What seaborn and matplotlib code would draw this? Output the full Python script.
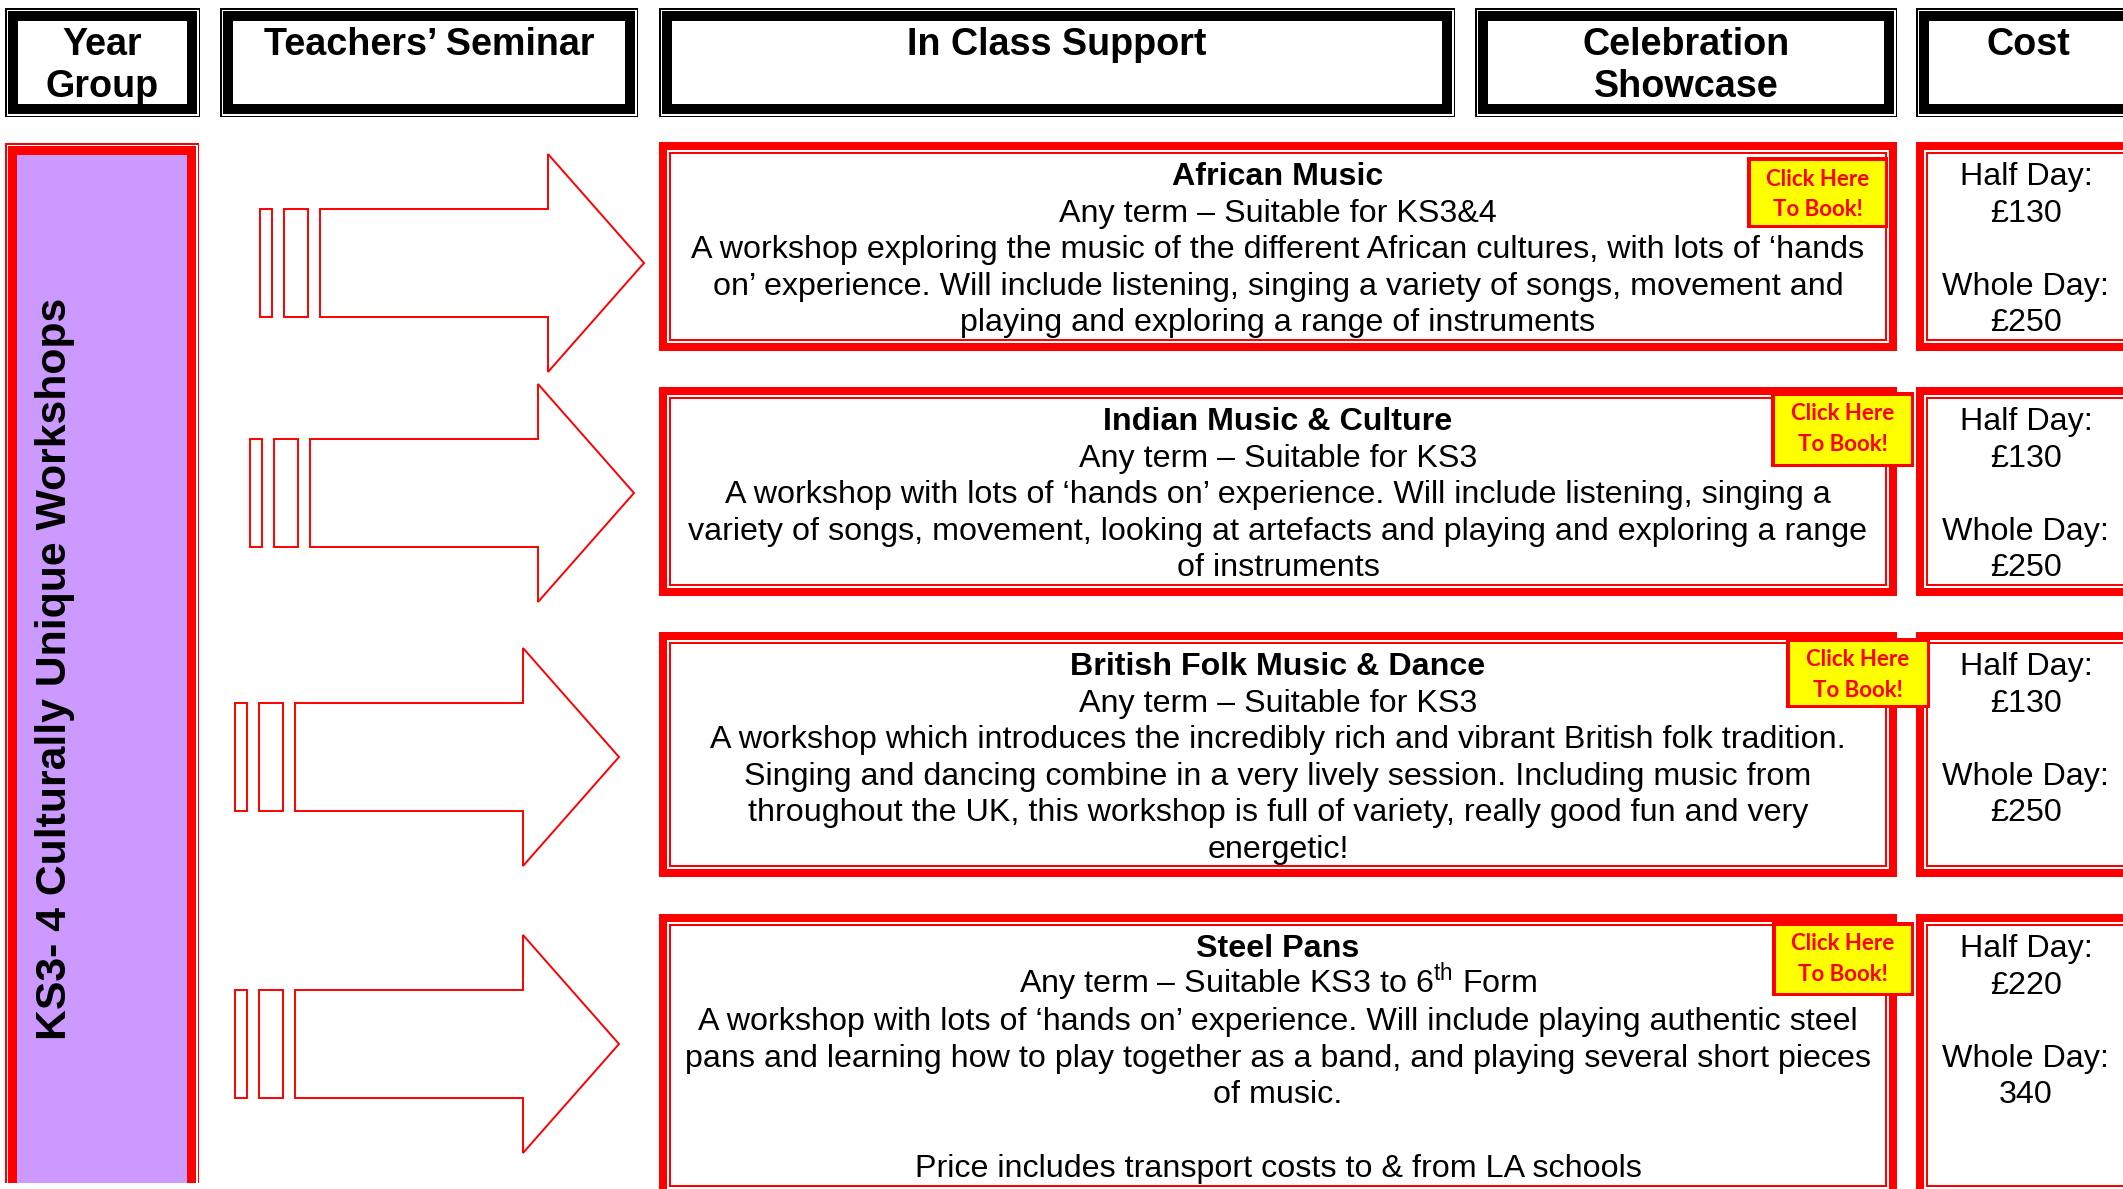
import matplotlib
matplotlib.use("Agg")
import matplotlib.pyplot as plt
from matplotlib.patches import Rectangle, Polygon
import seaborn as sns

# workshop table recreated as a drawing on one big axes (pixel units)

column_headers = [["Year", "Group"], ["Teachers’ Seminar"], ["In Class Support"],
                  ["Celebration", "Showcase"], ["Cost"]]
year_group = "KS3- 4 Culturally Unique Workshops"

titles = ["African Music", "Indian Music & Culture", "British Folk Music & Dance", "Steel Pans"]
subtitles = ["Any term – Suitable for KS3&4",
             "Any term – Suitable for KS3",
             "Any term – Suitable for KS3",
             r"Any term – Suitable KS3 to 6$^{\mathrm{th}}$ Form"]
descriptions = [
    ["A workshop exploring the music of the different African cultures, with lots of ‘hands",
     "on’ experience. Will include listening, singing a variety of songs, movement and",
     "playing and exploring a range of instruments"],
    ["A workshop with lots of ‘hands on’ experience. Will include listening, singing a",
     "variety of songs, movement, looking at artefacts and playing and exploring a range",
     "of instruments"],
    ["A workshop which introduces the incredibly rich and vibrant British folk tradition.",
     "Singing and dancing combine in a very lively session. Including music from",
     "throughout the UK, this workshop is full of variety, really good fun and very",
     "energetic!"],
    ["A workshop with lots of ‘hands on’ experience. Will include playing authentic steel",
     "pans and learning how to play together as a band, and playing several short pieces",
     "of music.",
     "",
     "Price includes transport costs to & from LA schools"],
]
half_day = ["£130", "£130", "£130", "£220"]
whole_day = ["£250", "£250", "£250", "340"]
book_label = ["Click Here", "To Book!"]

# layout (pixels)
W, H = 2123, 1189
header_x = [(5, 200), (220, 638), (659, 1455), (1475, 1897), (1916, 2140)]
header_y = (8, 117)
row_top = [142, 387, 632, 914]
row_bottom = [351, 596, 877, 1197]
workshop_x = (659, 1897)
cost_x = (1916, 2140)
button_boxes = [(1747, 157, 1888, 228), (1771, 392, 1914, 467),
                (1786, 638, 1930, 708), (1772, 922, 1914, 996)]
arrow_x0 = [260, 250, 235, 235]
arrow_cy = [263, 493, 757, 1044]
LINE = 36.6

RED = "#FF0000"
PURPLE = "#CC99FF"
YELLOW = "#FFFF00"

sns.set_theme(style="white")
plt.rcParams["font.family"] = ["Liberation Sans", "DejaVu Sans"]
plt.rcParams["mathtext.fontset"] = "custom"
plt.rcParams["mathtext.rm"] = "Liberation Sans"


def layered(ax, x0, y0, x1, y1, layers, open_bottom=False):
    for inset, color in layers:
        b = 0 if open_bottom else inset
        ax.add_patch(Rectangle((x0 + inset, y0 + inset), (x1 - x0) - 2 * inset,
                               (y1 - y0) - inset - b, facecolor=color, edgecolor="none"))


fig = plt.figure(figsize=(W / 100, H / 100), dpi=100)
ax = fig.add_axes([0, 0, 1, 1])
ax.set_xlim(0, W)
ax.set_ylim(H, 0)
ax.axis("off")

# header row
for (x0, x1), lines in zip(header_x, column_headers):
    layered(ax, x0, header_y[0], x1, header_y[1],
            [(0, "black"), (1.5, "white"), (3, "black"), (13, "white")])
    for k, txt in enumerate(lines):
        ax.text((x0 + x1) / 2, 55 + 42 * k, txt, ha="center", va="baseline",
                fontsize=27.2, fontweight="bold", color="black")

# year group column
layered(ax, 5, 143, 199, 1183,
        [(0, RED), (1.5, "white"), (3, RED), (12, PURPLE)], open_bottom=True)
ax.text(66, 669, year_group, rotation=90, rotation_mode="anchor", ha="center",
        va="baseline", fontsize=30.8, fontweight="bold", color="black")

# arrows (teachers' seminar column)
for x0, cy in zip(arrow_x0, arrow_cy):
    ax.add_patch(Rectangle((x0, cy - 54), 12, 108, facecolor="none", edgecolor=RED, lw=1.4))
    ax.add_patch(Rectangle((x0 + 24, cy - 54), 24, 108, facecolor="none", edgecolor=RED, lw=1.4))
    pts = [(x0 + 60, cy - 54), (x0 + 288, cy - 54), (x0 + 288, cy - 109), (x0 + 384, cy),
           (x0 + 288, cy + 109), (x0 + 288, cy + 54), (x0 + 60, cy + 54)]
    ax.add_patch(Polygon(pts, closed=True, facecolor="white", edgecolor=RED, lw=1.4))

# workshop rows
for i in range(len(titles)):
    top, bot = row_top[i], row_bottom[i]
    box_layers = [(0, RED), (8, "white"), (10, RED), (12, "white")]
    layered(ax, workshop_x[0], top, workshop_x[1], bot, box_layers)
    layered(ax, cost_x[0], top, cost_x[1], bot, box_layers)

    cx = (workshop_x[0] + workshop_x[1]) / 2
    base = top + 43
    lines = [titles[i], subtitles[i]] + descriptions[i]
    for k, txt in enumerate(lines):
        ax.text(cx, base + LINE * k, txt, ha="center", va="baseline", fontsize=23.2,
                fontweight="bold" if k == 0 else "normal", color="black")

    ccx = 2026
    cost_lines = {0: "Half Day:", 1: half_day[i], 3: "Whole Day:", 4: whole_day[i]}
    for k, txt in cost_lines.items():
        ax.text(ccx, base + LINE * k, txt, ha="center", va="baseline", fontsize=23.2, color="black")

    bx0, by0, bx1, by1 = button_boxes[i]
    layered(ax, bx0, by0, bx1, by1, [(0, RED), (3.5, YELLOW)])
    for k, txt in enumerate(book_label):
        ax.text((bx0 + bx1) / 2, by0 + 28.5 + 30.5 * k, txt, ha="center", va="baseline",
                fontsize=16, fontweight="bold", color=RED, family=["Lato", "DejaVu Sans"])

fig.savefig("out.png", dpi=100)
plt.close()
